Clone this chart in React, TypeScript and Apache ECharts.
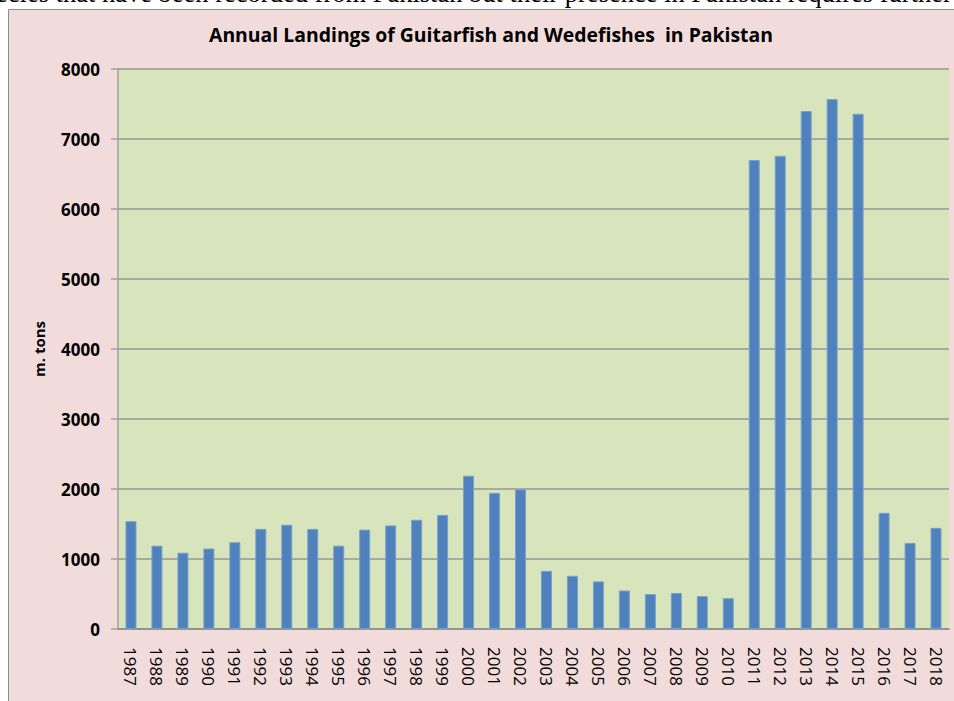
import React, { useEffect, useRef } from "react";
import * as echarts from "echarts";

const years = [
  "1987", "1988", "1989", "1990", "1991", "1992", "1993", "1994", "1995", "1996",
  "1997", "1998", "1999", "2000", "2001", "2002", "2003", "2004", "2005", "2006",
  "2007", "2008", "2009", "2010", "2011", "2012", "2013", "2014", "2015", "2016",
  "2017", "2018",
];
const landings = [
  1540, 1190, 1090, 1150, 1240, 1430, 1490, 1430, 1190, 1420,
  1480, 1560, 1630, 2190, 1945, 1995, 830, 760, 680, 550,
  500, 515, 470, 440, 6700, 6760, 7400, 7570, 7360, 1660,
  1230, 1445,
];
const titleText = "Annual Landings of Guitarfish and Wedefishes  in Pakistan";
const yAxisName = "m. tons";
const topLine = "ecies that have been recorded from Pakistan but their presence in Pakistan requires further";

export default function App() {
  const ref = useRef<HTMLDivElement>(null);
  useEffect(() => {
    if (!ref.current) return;
    const chart = echarts.init(ref.current, null, { renderer: "svg" });
    chart.setOption({
      animation: false,
      backgroundColor: "#ffffff",
      graphic: [
        {
          type: "rect",
          z: -10,
          shape: { x: 8.5, y: 9.5, width: 960, height: 700 },
          style: { fill: "#f2dcdb", stroke: "#8c8c8c", lineWidth: 1 },
        },
        {
          type: "text",
          x: -4,
          y: 6,
          style: {
            text: topLine,
            font: "26.5px 'Liberation Serif'",
            fill: "#000",
            textVerticalAlign: "bottom",
          },
        },
      ],
      title: {
        text: titleText,
        left: 204,
        top: 20,
        textStyle: {
          fontFamily: "Open Sans",
          fontWeight: "bold",
          fontSize: 19.4,
          color: "#000",
        },
      },
      grid: {
        left: 118,
        right: 5,
        top: 69,
        bottom: 72,
        show: true,
        backgroundColor: "#d8e4bc",
        borderWidth: 0,
      },
      xAxis: {
        type: "category",
        data: years,
        axisLine: { show: true, lineStyle: { color: "#8c8c8c", width: 1.5 } },
        axisTick: { show: false },
        axisLabel: {
          rotate: -90,
          margin: 18,
          interval: 0,
          fontFamily: "Open Sans",
          fontSize: 17,
          color: "#000",
        },
      },
      yAxis: {
        type: "value",
        min: 0,
        max: 8000,
        interval: 1000,
        name: yAxisName,
        nameLocation: "middle",
        nameGap: 72,
        nameTextStyle: {
          fontFamily: "Open Sans",
          fontWeight: "bold",
          fontSize: 15,
          color: "#000",
        },
        axisLine: { show: true, lineStyle: { color: "#a0a0a0", width: 1.5 } },
        axisTick: { show: true, length: 7, lineStyle: { color: "#a0a0a0", width: 1.5 } },
        axisLabel: {
          margin: 18,
          formatter: (v: number) => String(v),
          fontFamily: "Open Sans",
          fontWeight: "bold",
          fontSize: 17,
          color: "#000",
        },
        splitLine: { show: true, lineStyle: { color: "#979797", width: 1.5 } },
      },
      series: [
        {
          type: "bar",
          data: landings,
          barWidth: 11,
          itemStyle: { color: "#4f81bd", borderColor: "#7aa0cc", borderWidth: 1 },
        },
      ],
    });
    return () => chart.dispose();
  }, []);
  return (
    <div
      ref={ref}
      style={{ position: "absolute", left: 0, top: 0, width: 954, height: 701 }}
    />
  );
}
